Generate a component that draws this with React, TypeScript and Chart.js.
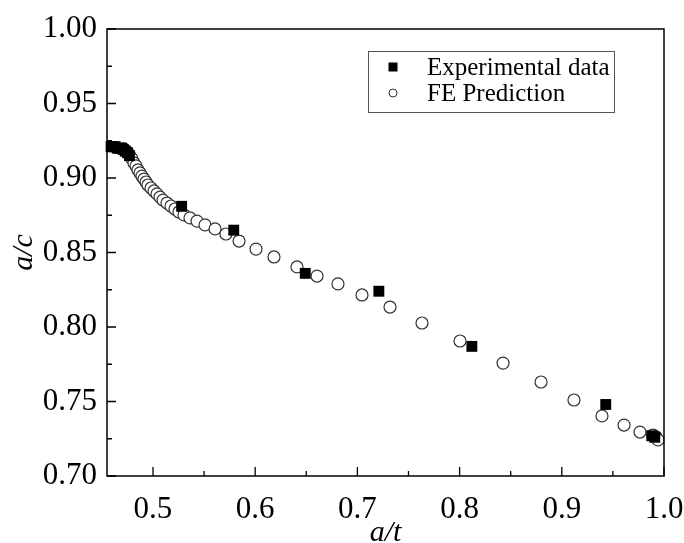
import React, { useEffect, useRef } from "react";
import { Chart, registerables } from "chart.js";

Chart.register(...registerables);

const expX = [0.459, 0.461, 0.463, 0.465, 0.467, 0.469, 0.471, 0.473, 0.475, 0.477, 0.528, 0.579, 0.649, 0.721, 0.812, 0.943, 0.988, 0.991];
const expY = [0.921, 0.921, 0.921, 0.920, 0.920, 0.920, 0.919, 0.918, 0.917, 0.915, 0.881, 0.865, 0.836, 0.824, 0.787, 0.748, 0.727, 0.726];

const feX = [
  0.4716, 0.4736, 0.4755, 0.4775, 0.4795, 0.4814, 0.4834, 0.4853, 0.4873, 0.4892,
  0.4912, 0.4932, 0.4951, 0.4981, 0.501, 0.5039, 0.5069, 0.5098, 0.5137, 0.5176,
  0.5215, 0.5254, 0.5303, 0.5362, 0.5431, 0.5509, 0.5607, 0.5714, 0.5842, 0.6008,
  0.6184, 0.6409, 0.6605, 0.681, 0.7045, 0.7319, 0.7632, 0.8004, 0.8425, 0.8797,
  0.9119, 0.9393, 0.9609, 0.9765, 0.9892, 0.9922, 0.9941,
];
const feY = [
  0.9195, 0.9181, 0.9168, 0.9148, 0.9128, 0.9101, 0.9081, 0.9054, 0.9034, 0.9013,
  0.8993, 0.8973, 0.8953, 0.8933, 0.8913, 0.8893, 0.8872, 0.8852, 0.8832, 0.8812,
  0.8792, 0.8772, 0.8752, 0.8732, 0.8711, 0.8685, 0.8658, 0.8624, 0.8577, 0.8523,
  0.847, 0.8403, 0.8342, 0.8289, 0.8215, 0.8134, 0.8027, 0.7906, 0.7758, 0.7631,
  0.751, 0.7403, 0.7342, 0.7295, 0.7275, 0.7262, 0.7242,
];

const xTicks = [0.5, 0.6, 0.7, 0.8, 0.9, 1.0];
const xMinorTicks = [0.55, 0.65, 0.75, 0.85, 0.95];
const yTicks = [0.7, 0.75, 0.8, 0.85, 0.9, 0.95, 1.0];
const yMinorTicks = [0.725, 0.775, 0.825, 0.875, 0.925, 0.975];

const seriesNames = ["Experimental data", "FE Prediction"];
const axisTitles = { x: "a/t", y: "a/c" };

const FONT = "'Liberation Serif', 'Times New Roman', serif";

const framePlugin = {
  id: "frameTicks",
  afterDatasetsDraw(chart: any) {
    const { ctx, chartArea } = chart;
    const { left, right, top, bottom } = chartArea;
    const xs = chart.scales.x;
    const ys = chart.scales.y;
    ctx.save();
    ctx.strokeStyle = "#000";
    ctx.lineWidth = 1.5;
    ctx.strokeRect(left, top, right - left, bottom - top);
    ctx.lineWidth = 1.3;
    ctx.beginPath();
    const tick = (vals: number[], len: number, horiz: boolean) => {
      vals.forEach((v) => {
        if (horiz) {
          const p = xs.getPixelForValue(v);
          ctx.moveTo(p, bottom);
          ctx.lineTo(p, bottom - len);
        } else {
          const p = ys.getPixelForValue(v);
          ctx.moveTo(left, p);
          ctx.lineTo(left + len, p);
        }
      });
    };
    tick(xTicks, 9, true);
    tick(xMinorTicks, 5, true);
    tick(yTicks, 9, false);
    tick(yMinorTicks, 5, false);
    ctx.stroke();
    ctx.restore();
  },
};

const legendPlugin = {
  id: "boxLegend",
  afterDraw(chart: any) {
    const { ctx } = chart;
    const bx = 368, by = 51, bw = 246, bh = 61;
    ctx.save();
    ctx.fillStyle = "#fff";
    ctx.fillRect(bx, by, bw, bh);
    ctx.strokeStyle = "#555";
    ctx.lineWidth = 1;
    ctx.strokeRect(bx + 0.5, by + 0.5, bw, bh);
    const rows = [67, 93];
    chart.data.datasets.forEach((ds: any, i: number) => {
      const cy = rows[i];
      const mx = 393;
      if (ds.pointStyle === "rect") {
        ctx.fillStyle = "#000";
        ctx.fillRect(mx - 4.5, cy - 4.5, 9, 9);
      } else {
        ctx.beginPath();
        ctx.arc(mx, cy, 4, 0, Math.PI * 2);
        ctx.fillStyle = "#fff";
        ctx.fill();
        ctx.strokeStyle = "#333";
        ctx.lineWidth = 1;
        ctx.stroke();
      }
      ctx.fillStyle = "#000";
      ctx.font = `25px ${FONT}`;
      ctx.textBaseline = "middle";
      ctx.textAlign = "left";
      ctx.fillText(ds.label, 427, cy + 1);
    });
    ctx.restore();
  },
};

export default function App() {
  const ref = useRef<HTMLCanvasElement | null>(null);
  useEffect(() => {
    if (!ref.current) return;
    const chart = new Chart(ref.current, {
      type: "scatter",
      data: {
        datasets: [
          {
            label: seriesNames[0],
            data: expX.map((x, i) => ({ x, y: expY[i] })),
            pointStyle: "rect",
            pointRadius: 7.7,
            backgroundColor: "#000",
            borderColor: "#000",
            borderWidth: 0,
            clip: false,
          },
          {
            label: seriesNames[1],
            data: feX.map((x, i) => ({ x, y: feY[i] })),
            pointStyle: "circle",
            pointRadius: 6,
            backgroundColor: "#fff",
            borderColor: "#333",
            borderWidth: 1.2,
            clip: false,
          },
        ],
      },
      options: {
        animation: false,
        responsive: false,
        maintainAspectRatio: false,
        layout: { padding: { left: 0, right: 20, top: 29, bottom: 0 } },
        plugins: { legend: { display: false }, tooltip: { enabled: false } },
        scales: {
          x: {
            type: "linear",
            min: 0.455,
            max: 1.0,
            grid: { display: false, drawTicks: false },
            border: { display: false },
            afterBuildTicks: (s: any) => {
              s.ticks = xTicks.map((v) => ({ value: v }));
            },
            afterFit: (s: any) => {
              s.height = 67;
              s.paddingLeft = 0;
              s.paddingRight = 0;
            },
            ticks: {
              color: "#000",
              padding: 15,
              maxRotation: 0,
              autoSkip: false,
              font: { family: FONT, size: 31 },
              callback: (v: any) => Number(v).toFixed(1),
            },
            title: {
              display: true,
              text: axisTitles.x,
              color: "#000",
              padding: 0,
              font: { family: FONT, size: 30, style: "italic", lineHeight: 0.65 },
            },
          },
          y: {
            type: "linear",
            min: 0.7,
            max: 1.0,
            grid: { display: false, drawTicks: false },
            border: { display: false },
            afterBuildTicks: (s: any) => {
              s.ticks = yTicks.map((v) => ({ value: v }));
            },
            afterFit: (s: any) => {
              s.width = 107;
              s.paddingTop = 0;
              s.paddingBottom = 0;
            },
            ticks: {
              color: "#000",
              padding: 10,
              autoSkip: false,
              font: { family: FONT, size: 31 },
              callback: (v: any) => Number(v).toFixed(2),
            },
            title: {
              display: true,
              text: axisTitles.y,
              color: "#000",
              padding: { top: 12, bottom: 0 },
              font: { family: FONT, size: 30, style: "italic", lineHeight: 0.8 },
            },
          },
        },
      },
      plugins: [framePlugin, legendPlugin],
    });
    return () => chart.destroy();
  }, []);
  return (
    <div style={{ position: "fixed", left: 0, top: 0, width: 684, height: 543, background: "#fff" }}>
      <canvas ref={ref} width={684} height={543} style={{ width: 684, height: 543 }} />
    </div>
  );
}
